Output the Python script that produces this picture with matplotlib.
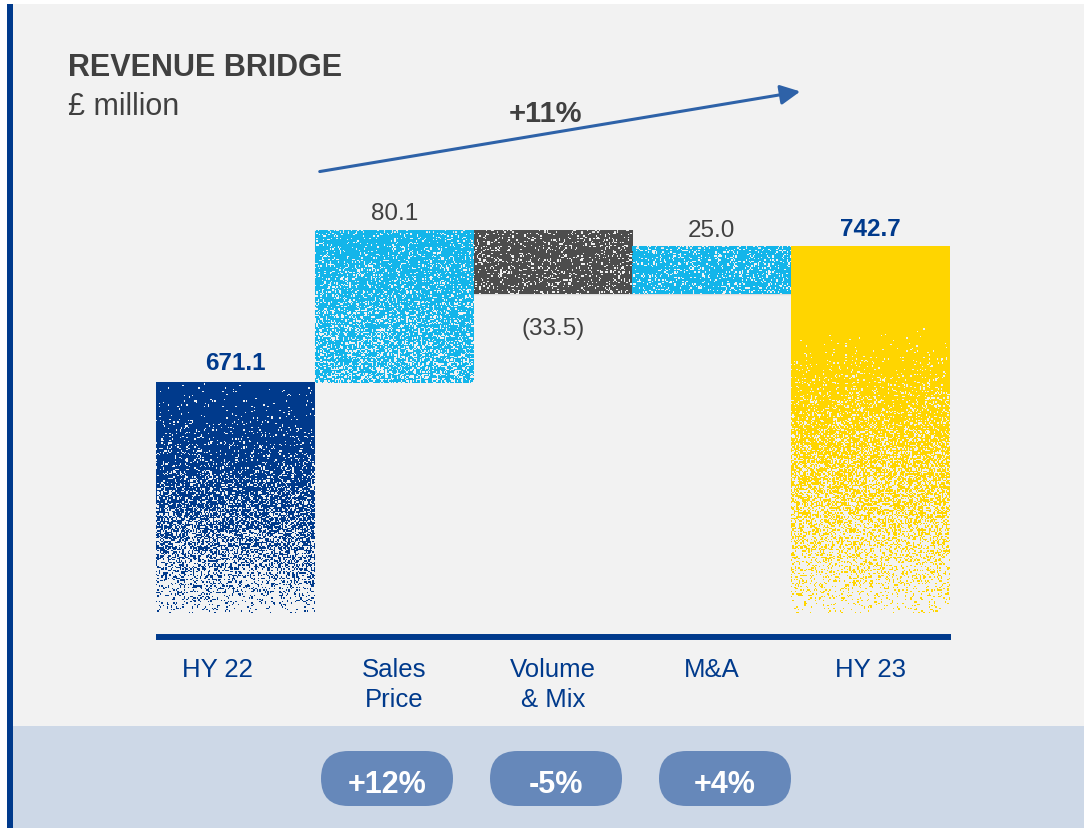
import matplotlib.pyplot as plt
import numpy as np
from matplotlib.patches import Rectangle, FancyBboxPatch, FancyArrowPatch

# data
categories = ["HY 22", "Sales\nPrice", "Volume\n& Mix", "M&A", "HY 23"]
start_value = 671.1
changes = [80.1, -33.5, 25.0]
end_value = 742.7
change_pct = ["+12%", "-5%", "+4%"]
total_pct = "+11%"
axis_base = 550.0

W, H = 1084, 829
DARK_BLUE = '#003a8c'
LIGHT_BLUE = '#13b5ea'
DARK_GREY = '#4d4d4d'
YELLOW = '#ffd500'
TEXT_GREY = '#404040'

plt.rcParams['font.family'] = ['Liberation Sans', 'DejaVu Sans']

fig = plt.figure(figsize=(W / 100, H / 100), dpi=100)

# canvas axes in pixel units for the decoration
bg = fig.add_axes([0, 0, 1, 1], zorder=0)
bg.set_xlim(0, W)
bg.set_ylim(H, 0)
bg.axis('off')
bg.add_patch(Rectangle((13, 5), W - 13, 722, color='#f2f2f2', lw=0))
bg.add_patch(Rectangle((13, 727), W - 13, H - 727, color='#cdd8e7', lw=0))
bg.add_patch(Rectangle((7, 5), 6, H - 5, color=DARK_BLUE, lw=0))

bg.text(68, 76, "REVENUE BRIDGE", fontsize=22, fontweight='bold',
        color=TEXT_GREY, va='baseline')
bg.text(68, 115, "£ million", fontsize=22, color=TEXT_GREY, va='baseline')

bg.add_patch(FancyArrowPatch((317, 173), (803, 92), arrowstyle='-|>',
                             mutation_scale=30, lw=2.2, color='#2e62a8'))
bg.text(546, 122, total_pct, fontsize=21, fontweight='bold',
        color=TEXT_GREY, ha='center', va='baseline')

pill_x = [387, 556, 725]
for cx, lab in zip(pill_x, change_pct):
    bg.add_patch(FancyBboxPatch((cx - 66, 752), 132, 55,
                                boxstyle="round,pad=0,rounding_size=27.5",
                                color='#6688ba', lw=0))
    bg.text(cx, 793, lab, fontsize=22, fontweight='bold', color='white',
            ha='center', va='baseline')

# chart axes, 1.9 px per £m
scale = 1.9
ax = fig.add_axes([156 / W, 1 - 637 / H, 794 / W, 487 / H], zorder=1)
ax.patch.set_alpha(0)


def texture(color, nrows, ncols, profile, seed):
    rng = np.random.default_rng(seed)
    t = np.linspace(0, 1, nrows)[:, None]
    p = profile(t)
    noise = rng.random((nrows, ncols))
    rgb = np.array(plt.matplotlib.colors.to_rgb(color))
    img = np.zeros((nrows, ncols, 4))
    img[..., :3] = rgb
    img[..., 3] = (noise < p).astype(float)
    return img


profiles = [
    lambda t: 0.98 - 0.9 * t ** 1.8,
    lambda t: 0.9 - 0.25 * t,
    lambda t: 0.86 + 0 * t,
    lambda t: 0.84 + 0 * t,
    lambda t: np.where(t < 0.22, 1.0,
                       1 - 0.93 * np.clip((t - 0.22) / 0.78, 0, 1) ** 1.3),
]
colors = [DARK_BLUE, LIGHT_BLUE, DARK_GREY, LIGHT_BLUE, YELLOW]

bottoms, tops = [axis_base], [start_value]
level = start_value
for c in changes:
    new = level + c
    bottoms.append(min(level, new))
    tops.append(max(level, new))
    level = new
bottoms.append(axis_base)
tops.append(end_value)

for i, (b, t) in enumerate(zip(bottoms, tops)):
    nrows = max(int((t - b) * scale / 1.3), 4)
    img = texture(colors[i], nrows, 120, profiles[i], i + 3)
    ax.imshow(img, extent=(i - 0.5, i + 0.5, b, t), aspect='auto',
              interpolation='nearest', zorder=2)

# faint connectors
levels = np.cumsum([start_value] + changes)
for i in range(2, 4):
    ax.plot([i - 1.5, i + 0.5], [levels[i - 1]] * 2,
            color='#dcdcdc', lw=1, zorder=1)
ax.plot([2.5, 4.5], [levels[3]] * 2, color='#dcdcdc', lw=1, zorder=1)

# value labels
ax.annotate(f"{start_value:.1f}", (0, start_value), xytext=(0, 15),
            textcoords='offset points', ha='center', va='center',
            fontsize=17.5, fontweight='bold', color=DARK_BLUE)
ax.annotate(f"{end_value:.1f}", (4, end_value), xytext=(0, 13.5),
            textcoords='offset points', ha='center', va='center',
            fontsize=17.5, fontweight='bold', color=DARK_BLUE)
for j, c in enumerate(changes):
    i = j + 1
    if c >= 0:
        ax.annotate(f"{c:.1f}", (i, tops[i]), xytext=(0, 12.5),
                    textcoords='offset points', ha='center', va='center',
                    fontsize=17.5, color=TEXT_GREY)
    else:
        ax.annotate(f"({abs(c):.1f})", (i, bottoms[i]), xytext=(0, -24),
                    textcoords='offset points', ha='center', va='center',
                    fontsize=17.5, color=TEXT_GREY)

# category labels
for i, lab in enumerate(categories):
    dx = -13 if i == 0 else 0
    ax.annotate(lab, (i, 0), xycoords=('data', 'axes fraction'),
                xytext=(dx, -15), textcoords='offset points',
                ha='center', va='top', fontsize=18.5, color=DARK_BLUE,
                linespacing=1.35)

ax.set_xlim(-0.5, 4.5)
ax.set_ylim(axis_base - 23 / scale, axis_base + 464 / scale)
ax.axis('off')

# baseline
bg.plot([156, 951], [638, 638], color=DARK_BLUE, lw=4.3,
        solid_capstyle='butt')

fig.savefig('out.png', dpi=100)
